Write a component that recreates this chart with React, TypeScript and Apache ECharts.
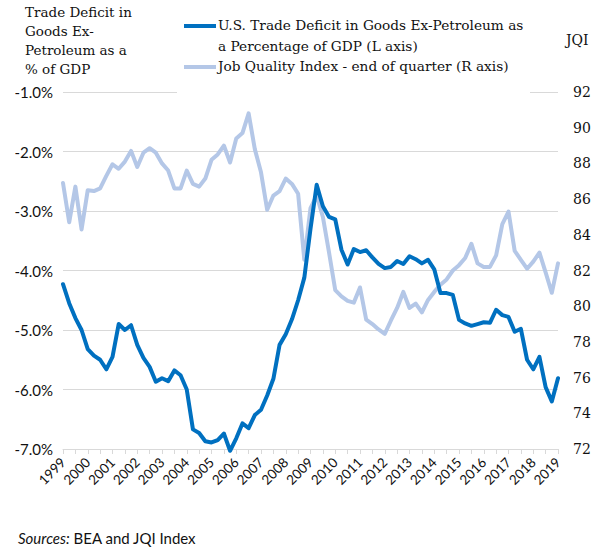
import React, { useEffect, useRef } from 'react';
import * as echarts from 'echarts';

const yearLabels = ['1999', '2000', '2001', '2002', '2003', '2004', '2005', '2006', '2007', '2008', '2009', '2010', '2011', '2012', '2013', '2014', '2015', '2016', '2017', '2018', '2019'];

const tradeDeficitPct = [
  -4.23, -4.55, -4.80, -5.00, -5.32, -5.43, -5.50, -5.66, -5.45, -4.90,
  -5.00, -4.92, -5.25, -5.47, -5.62, -5.87, -5.81, -5.86, -5.68, -5.76,
  -6.00, -6.67, -6.73, -6.87, -6.89, -6.85, -6.74, -7.03, -6.82, -6.57,
  -6.65, -6.43, -6.34, -6.10, -5.82, -5.25, -5.07, -4.82, -4.50, -4.12,
  -3.30, -2.56, -2.92, -3.10, -3.14, -3.65, -3.90, -3.64, -3.69, -3.66,
  -3.78, -3.89, -3.96, -3.94, -3.84, -3.89, -3.76, -3.81, -3.88, -3.82,
  -3.98, -4.38, -4.38, -4.41, -4.83, -4.89, -4.93, -4.90, -4.87, -4.88,
  -4.66, -4.75, -4.78, -5.03, -4.98, -5.50, -5.66, -5.45, -5.96, -6.20,
  -5.81,
];

const jqiIndex = [
  86.9, 84.7, 86.7, 84.3, 86.5, 86.45, 86.6, 87.3, 87.95, 87.7,
  88.1, 88.7, 87.8, 88.6, 88.85, 88.6, 88.0, 87.6, 86.6, 86.6,
  87.6, 86.85, 86.7, 87.15, 88.2, 88.5, 89.0, 88.05, 89.4, 89.7,
  90.8, 88.8, 87.5, 85.4, 86.2, 86.45, 87.15, 86.85, 86.3, 82.6,
  85.5, 86.2, 85.0, 83.0, 80.9, 80.55, 80.3, 80.2, 81.05, 79.25,
  79.0, 78.7, 78.45, 79.2, 79.9, 80.8, 79.9, 80.15, 79.65, 80.35,
  80.8, 81.2, 81.5, 82.0, 82.3, 82.7, 83.5, 82.4, 82.2, 82.2,
  82.85, 84.6, 85.3, 83.1, 82.6, 82.1, 82.5, 83.0, 81.9, 80.75,
  82.4,
];

const seriesNames = [
  'U.S. Trade Deficit in Goods Ex-Petroleum as\na Percentage of GDP (L axis)',
  'Job Quality Index - end of quarter (R axis)',
];
const leftAxisTitle = 'Trade Deficit in\nGoods Ex-\nPetroleum as a\n% of GDP';
const rightAxisTitle = 'JQI';
const sourceNote = '{i|Sources:} BEA and JQI Index';

const categories: string[] = [];
yearLabels.forEach((y, yi) => {
  for (let q = 1; q <= 4; q++) {
    if (yi === yearLabels.length - 1 && q > 1) break;
    categories.push(`${y} Q${q}`);
  }
});

const SERIF = '"DejaVu Serif", serif';
const SANS = 'Lato, "Liberation Sans", sans-serif';
const DARK = '#0070C0';
const LIGHT = '#B4C7E7';
const GRID = '#D9D9D9';
const TEXT = '#111111';

export default function App() {
  const ref = useRef<HTMLDivElement>(null);
  useEffect(() => {
    if (!ref.current) return;
    document.body.style.margin = '0';
    const chart = echarts.init(ref.current, undefined, { renderer: 'svg' });
    chart.setOption({
      animation: false,
      backgroundColor: '#ffffff',
      grid: { left: 63, right: 41, top: 92, bottom: 101, containLabel: false },
      xAxis: {
        type: 'category',
        data: categories,
        boundaryGap: false,
        axisLine: { lineStyle: { color: GRID, width: 1 } },
        axisTick: { show: true, interval: 1, length: 5, lineStyle: { color: GRID } },
        axisLabel: {
          interval: 3,
          rotate: 45,
          margin: 11,
          fontFamily: SANS,
          fontSize: 13.5,
          color: TEXT,
          formatter: (v: string) => v.slice(0, 4),
        },
        splitLine: { show: false },
      },
      yAxis: [
        {
          type: 'value',
          position: 'left',
          min: -7,
          max: -1,
          interval: 1,
          axisLine: { show: false },
          axisTick: { show: false },
          splitLine: { show: true, lineStyle: { color: GRID, width: 1 } },
          axisLabel: {
            margin: 10,
            fontFamily: SANS,
            fontSize: 15,
            color: TEXT,
            formatter: (v: number) => v.toFixed(1) + '%',
          },
        },
        {
          type: 'value',
          position: 'right',
          min: 72,
          max: 92,
          interval: 2,
          axisLine: { show: false },
          axisTick: { show: false },
          splitLine: { show: false },
          axisLabel: { margin: 15, fontFamily: SERIF, fontSize: 14, color: TEXT },
        },
      ],
      series: [
        {
          name: seriesNames[1],
          type: 'line',
          yAxisIndex: 1,
          data: jqiIndex,
          showSymbol: false,
          symbol: 'none',
          clip: false,
          z: 2,
          lineStyle: { color: LIGHT, width: 4, cap: 'round', join: 'round' },
          itemStyle: { color: LIGHT },
        },
        {
          name: seriesNames[0],
          type: 'line',
          yAxisIndex: 0,
          data: tradeDeficitPct,
          showSymbol: false,
          symbol: 'none',
          clip: false,
          z: 3,
          lineStyle: { color: DARK, width: 4, cap: 'round', join: 'round' },
          itemStyle: { color: DARK },
        },
      ],
      graphic: [
        {
          type: 'rect',
          z: 50,
          shape: { x: 177, y: 4, width: 353, height: 91 },
          style: { fill: '#ffffff' },
        },
        {
          type: 'line',
          z: 51,
          shape: { x1: 184, y1: 26, x2: 216, y2: 26 },
          style: { stroke: DARK, lineWidth: 4 },
        },
        {
          type: 'line',
          z: 51,
          shape: { x1: 184, y1: 67, x2: 216, y2: 67 },
          style: { stroke: LIGHT, lineWidth: 4 },
        },
        {
          type: 'text',
          z: 51,
          x: 218,
          y: 15,
          style: {
            text: seriesNames[0],
            fontFamily: SERIF,
            fontSize: 13.7,
            lineHeight: 20.5,
            fill: TEXT,
            align: 'left',
            verticalAlign: 'top',
          },
        },
        {
          type: 'text',
          z: 51,
          x: 218,
          y: 66,
          style: {
            text: seriesNames[1],
            fontFamily: SERIF,
            fontSize: 13.7,
            fill: TEXT,
            align: 'left',
            verticalAlign: 'middle',
          },
        },
        {
          type: 'text',
          z: 51,
          x: 25,
          y: 2,
          style: {
            text: leftAxisTitle,
            fontFamily: SERIF,
            fontSize: 13.5,
            lineHeight: 19,
            fill: TEXT,
            align: 'left',
            verticalAlign: 'top',
          },
        },
        {
          type: 'text',
          z: 51,
          x: 566,
          y: 40,
          style: {
            text: rightAxisTitle,
            fontFamily: SERIF,
            fontSize: 14,
            fill: TEXT,
            align: 'left',
            verticalAlign: 'middle',
          },
        },
        {
          type: 'text',
          z: 51,
          x: 18,
          y: 538,
          style: {
            text: sourceNote,
            fontFamily: SANS,
            fontSize: 15,
            fill: TEXT,
            align: 'left',
            verticalAlign: 'middle',
            rich: { i: { fontStyle: 'italic', fontFamily: SANS, fontSize: 15, fill: TEXT } },
          },
        },
      ],
    });
    return () => chart.dispose();
  }, []);
  return <div ref={ref} style={{ width: 599, height: 550 }} />;
}
